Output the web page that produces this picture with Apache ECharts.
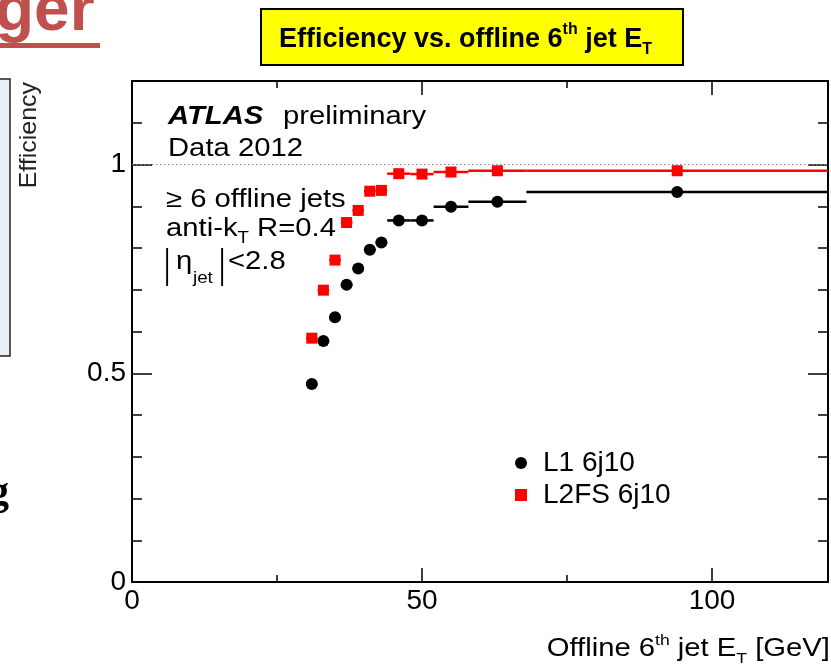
<!DOCTYPE html>
<html><head><meta charset="utf-8">
<script src="https://cdn.jsdelivr.net/npm/echarts@6/dist/echarts.min.js"></script>
<style>html,body{margin:0;padding:0;background:#fff;overflow:hidden}#chart{width:831px;height:664px}</style>
</head><body><div id="chart"></div>
<script>
// ---- data ----
const binLow    = [30, 32, 34, 36, 38, 40, 42, 44, 48, 52, 58, 68];
const binHigh   = [32, 34, 36, 38, 40, 42, 44, 48, 52, 58, 68, 120];
const binCenter = [31, 33, 35, 37, 39, 41, 43, 46, 50, 55, 63, 94];
const l1Eff     = [0.474, 0.577, 0.634, 0.712, 0.751, 0.796, 0.813, 0.866, 0.866, 0.899, 0.911, 0.934];
const l2fsEff   = [0.584, 0.699, 0.771, 0.861, 0.890, 0.936, 0.938, 0.978, 0.977, 0.982, 0.985, 0.985];
const seriesNames = ['L1 6j10', 'L2FS 6j10'];
const referenceLevel = 1;
const xRange = [0, 120];
const yRange = [0, 1.2];

const FONT = '"Liberation Sans", Arial, Helvetica, sans-serif';
const chart = echarts.init(document.getElementById('chart'), null, {renderer: 'canvas'});

const ctx = document.createElement('canvas').getContext('2d');
function fontStr(s) {
  return (s.italic ? 'italic ' : '') + (s.bold ? 'bold ' : '') + s.size + 'px ' + (s.family || FONT);
}
function textRun(x0, baseline, scaleX, segs, alignRight) {
  const widths = segs.map(s => { ctx.font = fontStr(s); return ctx.measureText(s.text).width * (s.sx || scaleX); });
  let x = x0;
  if (alignRight) x = x0 - widths.reduce((a, b) => a + b, 0);
  const els = [];
  segs.forEach((s, i) => {
    const px = (s.x !== undefined) ? s.x : x;
    els.push({
      type: 'text', x: px, y: baseline + (s.dy || 0) - 0.35 * s.size,
      scaleX: s.sx || scaleX, z: 100,
      style: {text: s.text, font: fontStr(s), fill: s.color || '#000', align: 'left', verticalAlign: 'middle'}
    });
    x = px + widths[i];
  });
  return els;
}

function errBar(color, width) {
  return function (params, api) {
    const y = api.value(2);
    const p1 = api.coord([api.value(0), y]);
    const p2 = api.coord([api.value(1), y]);
    return {type: 'line', shape: {x1: p1[0], y1: p1[1], x2: p2[0], y2: p2[1]},
            style: {stroke: color, lineWidth: width}};
  };
}

const l1Bars = binLow.map((l, i) => [l, binHigh[i], l1Eff[i]]);
const l2Bars = binLow.map((l, i) => [l, binHigh[i], l2fsEff[i]]);
const l1Pts = binCenter.map((c, i) => [c, l1Eff[i]]);
const l2Pts = binCenter.map((c, i) => [c, l2fsEff[i]]);

const tickStyle = {color: '#000', width: 1.5};
function xAx(pos, interval, len, showLine, showLabel) {
  return {
    type: 'value', position: pos, min: xRange[0], max: xRange[1], interval: interval,
    axisLine: {show: showLine, onZero: false, lineStyle: {color: '#000', width: 2}},
    axisTick: {show: true, inside: true, length: len, lineStyle: tickStyle},
    axisLabel: {show: showLabel, fontSize: 28, fontFamily: FONT, color: '#000', margin: 5, showMaxLabel: false, showMinLabel: true},
    splitLine: {show: false}
  };
}
function yAx(pos, interval, len, showLine, showLabel) {
  return {
    type: 'value', position: pos, min: yRange[0], max: yRange[1], interval: interval,
    axisLine: {show: showLine, onZero: false, lineStyle: {color: '#000', width: 2}},
    axisTick: {show: true, inside: true, length: len, lineStyle: tickStyle},
    axisLabel: {show: showLabel, fontSize: 28, fontFamily: FONT, color: '#000', margin: 6, showMaxLabel: false, showMinLabel: true},
    splitLine: {show: false}
  };
}

const S = 1.17;
const FS = 25;
let graphics = [];
// slide remnants
graphics.push({type: 'text', x: -5, y: 35 - 0.35 * 64, z: 100,
  style: {text: 'ger', font: 'bold 64px ' + FONT, fill: '#c0504d', verticalAlign: 'middle'}});
graphics.push({type: 'rect', shape: {x: 0, y: 43, width: 100, height: 5}, style: {fill: '#c0504d'}, z: 100});
graphics.push({type: 'rect', shape: {x: -5, y: 79, width: 15, height: 277}, style: {fill: '#e8f1f8', stroke: '#222', lineWidth: 1.5}, z: 100});
graphics.push({type: 'text', x: -11, y: 508 - 0.35 * 40, z: 100,
  style: {text: 'g', font: 'bold 40px "Liberation Serif", serif', fill: '#000', verticalAlign: 'middle'}});
// y-axis title
graphics.push({type: 'text', x: 29, y: 82, rotation: Math.PI / 2, scaleX: 1.04, z: 100,
  style: {text: 'Efficiency', font: '24px ' + FONT, fill: '#222', align: 'right', verticalAlign: 'middle'}});
// title box
graphics.push({type: 'rect', shape: {x: 261, y: 9, width: 422, height: 56}, style: {fill: '#ffff00', stroke: '#000', lineWidth: 2}, z: 99});
graphics = graphics.concat(textRun(279, 49, 1, [
  {text: 'Efficiency vs. offline 6', size: 27, bold: true},
  {text: 'th', size: 16, bold: true, dy: -14},
  {text: ' jet E', size: 27, bold: true},
  {text: 'T', size: 16, bold: true, dy: 6}
]));
// annotations
graphics = graphics.concat(textRun(168, 126, S, [{text: 'ATLAS', size: FS, bold: true, italic: true}]));
graphics = graphics.concat(textRun(283, 126, S, [{text: 'preliminary', size: FS}]));
graphics = graphics.concat(textRun(168, 158, S, [{text: 'Data 2012', size: FS}]));
graphics = graphics.concat(textRun(166, 209, S, [{text: '\u2265 6 offline jets', size: FS}]));
graphics = graphics.concat(textRun(166, 238, S, [
  {text: 'anti-k', size: FS}, {text: 'T', size: 16, dy: 6}, {text: ' R=0.4', size: FS}
]));
graphics = graphics.concat(textRun(166, 271, S, [
  {text: '|', size: 40, dy: 10, sx: 0.6, x: 164},
  {text: '\u03B7', size: FS, x: 176},
  {text: 'jet', size: 16, dy: 13, x: 193},
  {text: '|', size: 40, dy: 10, sx: 0.6, x: 219},
  {text: '<2.8', size: FS, x: 228}
]));
// x-axis title
graphics = graphics.concat(textRun(830, 658, S, [
  {text: 'Offline 6', size: FS}, {text: 'th', size: 15, dy: -12},
  {text: ' jet E', size: FS}, {text: 'T', size: 15, dy: 6}, {text: ' [GeV]', size: FS}
], true));

const option = {
  animation: false,
  backgroundColor: '#fff',
  grid: {left: 132, right: 3, top: 81, bottom: 82, containLabel: false},
  xAxis: [xAx('bottom', 50, 14, true, true), xAx('bottom', 25, 7, false, false),
          xAx('top', 50, 14, true, false), xAx('top', 25, 7, false, false)],
  yAxis: [yAx('left', 0.5, 20, true, true), yAx('left', 0.1, 10, false, false),
          yAx('right', 0.5, 20, true, false), yAx('right', 0.1, 10, false, false)],
  legend: {
    data: seriesNames, orient: 'vertical', left: 515, top: 449, padding: 0,
    itemWidth: 12, itemHeight: 12, itemGap: 4,
    formatter: name => '{g|}' + name,
    textStyle: {fontSize: 28, fontFamily: FONT, color: '#000', lineHeight: 26,
      rich: {g: {width: 11}}}
  },
  graphic: graphics,
  series: [
    {name: 'L1 err', type: 'custom', renderItem: errBar('#000', 2.5), data: l1Bars,
     encode: {x: [0, 1], y: 2}, z: 2, silent: true},
    {name: 'L2FS err', type: 'custom', renderItem: errBar('#ff0000', 2.5), data: l2Bars,
     encode: {x: [0, 1], y: 2}, z: 2, silent: true},
    {name: seriesNames[0], type: 'scatter', symbol: 'circle', symbolSize: 12, data: l1Pts,
     itemStyle: {color: '#000', opacity: 1}, z: 4,
     markLine: {silent: true, symbol: ['none', 'none'], label: {show: false},
       lineStyle: {type: [1.5, 2.5], color: '#888', width: 1}, data: [{yAxis: referenceLevel}]}},
    {name: seriesNames[1], type: 'scatter', symbol: 'rect', symbolSize: 11, data: l2Pts,
     itemStyle: {color: '#ff0000', opacity: 1}, z: 5}
  ]
};
chart.setOption(option);
</script>
</body></html>
